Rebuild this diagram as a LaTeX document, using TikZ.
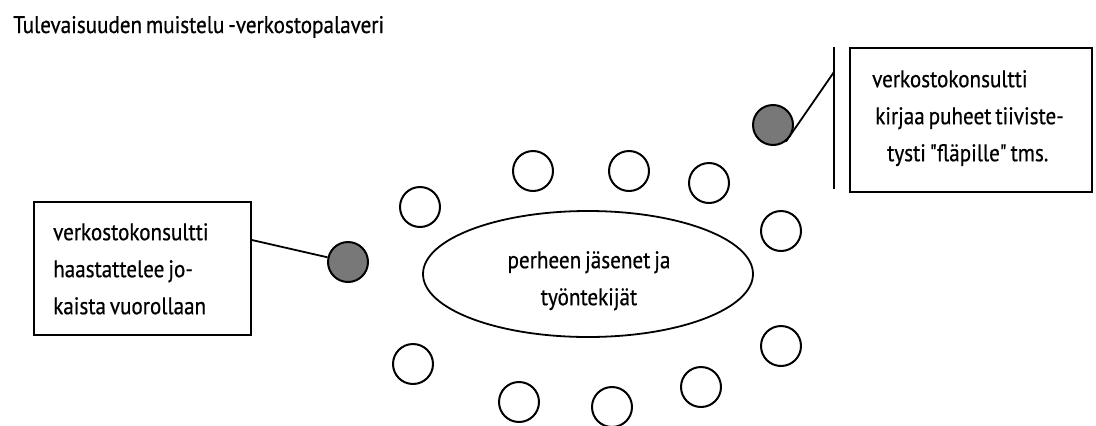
\documentclass[tikz,border=0pt]{standalone}
\usepackage{fontspec}
\setmainfont{PT Sans}[FakeStretch=0.88,FakeBold=0.6,Ligatures=TeXOff,WordSpace=0.7]
\usetikzlibrary{shapes.geometric}
\definecolor{seatgrey}{RGB}{120,120,120}
\begin{document}
\begin{tikzpicture}[x=1pt,y=-1pt,
  every node/.style={font=\fontsize{24}{37}\selectfont},
  seat/.style={circle,draw,line width=2pt,minimum size=40pt,inner sep=0pt},
  consult/.style={seat,fill=seatgrey},
  infobox/.style={draw,line width=1.8pt,anchor=north west,inner sep=0pt},
  boxtext/.style={align=left,anchor=north west,inner sep=0pt},
  link/.style={line width=1.8pt}]
\useasboundingbox (0,0) rectangle (1096,426);
\node[anchor=base west,inner sep=0pt] (title) at (13,33) {Tulevaisuuden muistelu -verkostopalaveri};
% table
\node[ellipse,draw,line width=1.8pt,minimum width=330pt,minimum height=126pt,inner sep=0pt] (table) at (588,274) {};
\node[align=center,anchor=north,inner sep=0pt] (tabletext) at (589,251) {perheen jäsenet ja\\työntekijät};
% seats
\node[seat] (s1) at (533,171) {};
\node[seat] (s2) at (629,171) {};
\node[seat] (s3) at (709,183) {};
\node[seat] (s4) at (420,207) {};
\node[seat] (s5) at (781,231) {};
\node[seat] (s6) at (781,346) {};
\node[seat] (s7) at (413,364) {};
\node[seat] (s8) at (701,387) {};
\node[seat] (s9) at (519,402) {};
\node[seat] (s10) at (612,407) {};
% consultants
\node[consult] (gl) at (348,262) {};
\node[consult] (gr) at (773,125) {};
% boxes
\node[infobox,minimum width=217pt,minimum height=133pt] (lbox) at (33,201) {};
\node[boxtext] (ltext) at (53,223) {verkostokonsultti\\haastattelee jo-\\kaista vuorollaan};
\node[infobox,minimum width=242pt,minimum height=144pt] (rbox) at (849,47) {};
\node[boxtext] (rtext) at (872,70)
  {verkostokonsultti\\\hspace*{3pt}kirjaa puheet tiiviste-\\\hspace*{15pt}tysti "fläpille" tms.};
% connectors
\coordinate (vtop) at (834,47);
\coordinate (vbot) at (834,189);
\coordinate (vjoin) at (834,72);
\draw[link] (vtop) -- (vbot);
\draw[link] (gr.-52) -- (vjoin);
\draw[link] ([yshift=-39pt]lbox.north east) -- (gl);
\end{tikzpicture}
\end{document}
